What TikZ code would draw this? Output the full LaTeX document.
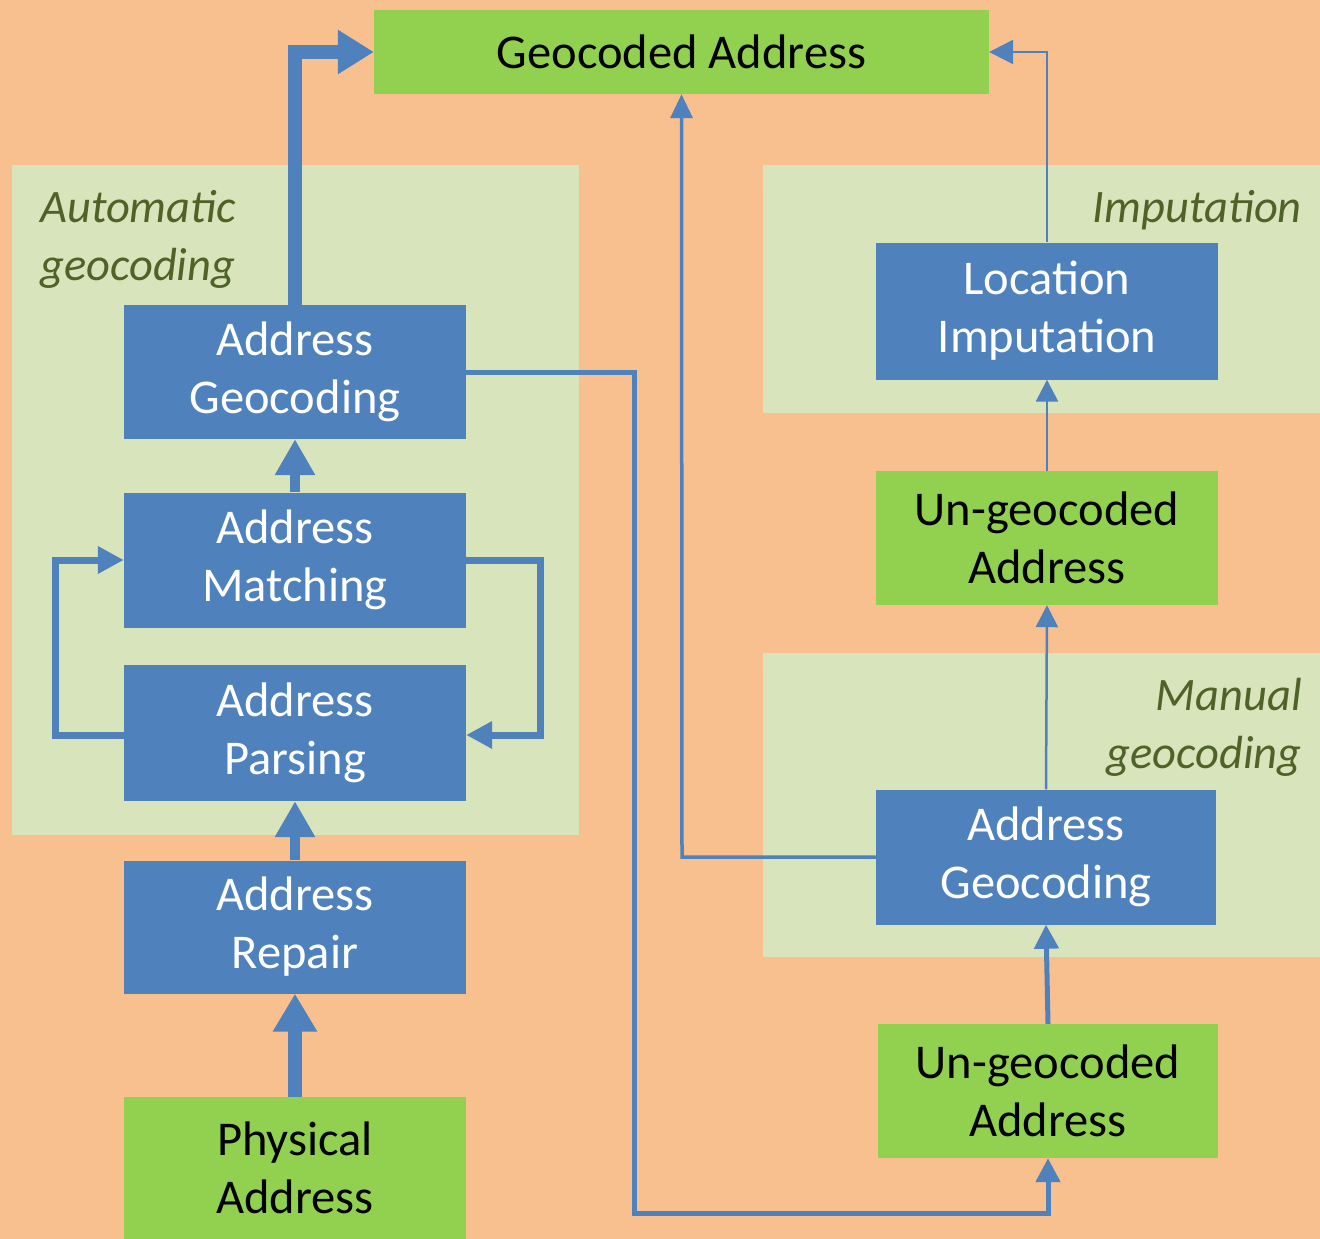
\documentclass[tikz,border=0pt]{standalone}
\usepackage{fontspec}
\setmainfont{Carlito}
\usetikzlibrary{arrows.meta}
\definecolor{bgorange}{RGB}{249,192,143}
\definecolor{panelgreen}{RGB}{216,228,188}
\definecolor{boxgreen}{RGB}{146,208,80}
\definecolor{boxblue}{RGB}{79,129,189}
\definecolor{labelolive}{RGB}{79,98,40}
\tikzset{
  bluebox/.style={fill=boxblue, text=white, inner sep=0pt, align=center,
    font=\fontsize{48.5}{58}\selectfont},
  greenbox/.style={fill=boxgreen, text=black, inner sep=0pt, align=center,
    font=\fontsize{48.5}{58}\selectfont},
  panel/.style={fill=panelgreen},
  plabel/.style={text=labelolive, inner sep=0pt, font=\fontsize{46.5}{58}\itshape\selectfont},
  flow/.style={draw=boxblue, line join=miter},
}
\begin{document}
\begin{tikzpicture}[x=1pt,y=-1pt]
\useasboundingbox (0,0) rectangle (1320,1239);
\fill[bgorange] (0,0) rectangle (1320,1239);
% panels
\fill[panel] (12,165) rectangle (579,835);
\fill[panel] (763,165) rectangle (1320,413);
\fill[panel] (763,653) rectangle (1320,957);
% panel labels
\node[plabel, anchor=north west, align=left] (lauto) at (40,190) {Automatic\\geocoding};
\node[plabel, anchor=north east, align=right] (limp) at (1302,190) {Imputation};
\node[plabel, anchor=north east, align=right] (lman) at (1302,678) {Manual\\geocoding};
% boxes
\node[greenbox, minimum width=615, minimum height=84] (geo) at (681.5,52) {Geocoded Address};
\node[bluebox, minimum width=342, minimum height=134] (ag) at (295,372) {Address\\Geocoding};
\node[bluebox, minimum width=342, minimum height=135] (am) at (295,560) {Address\\Matching};
\node[bluebox, minimum width=342, minimum height=136] (ap) at (295,733) {Address\\Parsing};
\node[bluebox, minimum width=342, minimum height=133] (ar) at (295,927) {Address\\Repair};
\node[greenbox, minimum width=342, minimum height=142] (pa) at (295,1168) {Physical\\Address};
\node[bluebox, minimum width=342, minimum height=137] (li) at (1047,311) {Location\\Imputation};
\node[greenbox, minimum width=342, minimum height=134] (ug1) at (1047,538) {Un-geocoded\\Address};
\node[bluebox, minimum width=340, minimum height=135] (mg) at (1046,857) {Address\\Geocoding};
\node[greenbox, minimum width=340, minimum height=134] (ug2) at (1048,1091) {Un-geocoded\\Address};
% connectors
\draw[flow, line width=14, -{Triangle[length=36,width=42]}] (ag.north) -- (295,52) -- (geo.west);
\draw[flow, line width=10, -{Triangle[length=36,width=38]}] (am.north) -- (ag.south);
\draw[flow, line width=10, -{Triangle[length=36,width=38]}] (ar.north) -- (ap.south);
\draw[flow, line width=14, -{Triangle[length=38,width=42]}] (pa.north) -- (ar.south);
\draw[flow, line width=7, -{Triangle[length=26,width=26]}] (ap.west |- 0,735) -- (55,735) -- (55,560) -- (am.west);
\draw[flow, line width=7, -{Triangle[length=26,width=26]}] (am.east) -- (540,560) -- (540,735) -- (ap.east |- 0,735);
\draw[flow, line width=5, -{Triangle[length=24,width=24]}] (ag.east) -- (634,372) -- (634,1213) -- (1048,1213) -- (ug2.south);
\draw[flow, line width=5, -{Triangle[length=24,width=24]}] (ug2.north) -- (mg.south);
\draw[flow, line width=2.5, -{Triangle[length=22,width=22]}] (mg.north) -- (ug1.south);
\draw[flow, line width=2.5, -{Triangle[length=22,width=22]}] (ug1.north) -- (li.south);
\draw[flow, line width=2.5, -{Triangle[length=24,width=24]}] (li.north) -- (1047,52) -- (geo.east);
\draw[flow, line width=3.5, -{Triangle[length=24,width=22]}] (mg.west) -- (682,857) -- (geo.south);
\end{tikzpicture}
\end{document}
